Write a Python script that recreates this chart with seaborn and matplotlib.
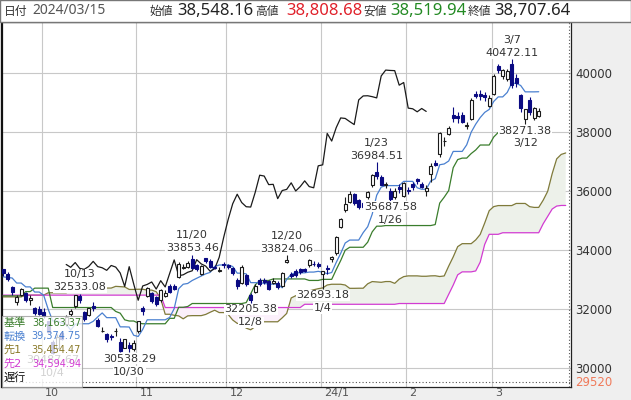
import numpy as np
import pandas as pd
import matplotlib
matplotlib.use("Agg")
import matplotlib.pyplot as plt
import matplotlib.transforms as mtransforms
from matplotlib.patches import Rectangle
import seaborn as sns

sns.set_style("white")
plt.rcParams['font.family'] = ['DejaVu Sans', 'Noto Sans CJK JP']

#%% data: Nikkei 225 daily candles 2023/09/19 - 2024/03/15

holidays = ["2023-10-09", "2023-11-03", "2023-11-23", "2024-01-01", "2024-01-02",
            "2024-01-03", "2024-01-08", "2024-02-12", "2024-02-23"]
dates = pd.bdate_range("2023-09-19", "2024-03-15")
dates = dates[~dates.isin(pd.to_datetime(holidays))]

opens = [33350, 33200, 32750, 32250, 32500, 32550, 32300, 32050, 32000, 31900,
         31600, 30900, 30700, 31200, 31500, 31850, 32100, 32450, 31900, 31800,
         32100, 31650, 31250, 31150, 31100, 31250, 30880, 30700, 30800, 30650,
         31250, 32050, 32450, 32550, 32400, 32300, 32450, 32800, 32800, 33100,
         33400, 33450, 33700, 33500, 33200, 33730, 33650, 33450, 33300, 33550,
         33500, 33400, 33000, 32900, 33150, 32500, 32600, 32980, 33000, 32950,
         32900, 32900, 32800, 33600, 33200, 33300, 33350, 33350, 33500, 33550,
         33550, 33200, 33400, 33700, 33900, 34800, 35380, 35640, 35900, 35700,
         35600, 35800, 36200, 36650, 36500, 36200, 36000, 35800, 36150, 35850,
         36050, 36250, 36400, 36250, 36000, 36600, 36950, 37250, 37700, 37950,
         38600, 38550, 38600, 38200, 38450, 39300, 39300, 39250, 38900, 39300,
         40250, 39900, 39800, 40300, 39850, 39250, 38450, 39100, 38480, 38548.16]
highs = [33370, 33250, 32800, 32470, 32720, 32580, 32500, 32080, 32100, 32050,
         31620, 30950, 31150, 31250, 31800, 32000, 32500, 32533.08, 31950, 32050,
         32260, 31700, 31400, 31200, 31150, 31380, 31030, 31000, 30900, 30950,
         31620, 32100, 32750, 32600, 32450, 32700, 32650, 32850, 32850, 33600,
         33550, 33650, 33853.46, 33550, 33500, 33750, 33700, 33500, 33450, 33600,
         33550, 33450, 33050, 33500, 33200, 32550, 32850, 33050, 33050, 33000,
         33050, 32950, 33250, 33824.06, 33250, 33350, 33400, 33400, 33720, 33650,
         33600, 33300, 33500, 33800, 34480, 35100, 35800, 36000, 35950, 35750,
         35650, 36000, 36600, 36984.51, 36550, 36300, 36100, 36100, 36250, 36300,
         36150, 36300, 36450, 36300, 36200, 36950, 37050, 38000, 37850, 38200,
         38850, 38700, 38700, 38350, 39160, 39400, 39450, 39350, 39250, 39990,
         40300, 40150, 40150, 40472.11, 39990, 39300, 38800, 39200, 38850, 38808.68]
lows = [33130, 32950, 32490, 32150, 32450, 32250, 32160, 31800, 31810, 31700,
        31200, 30487.67, 30650, 30950, 31450, 31780, 32050, 32200, 31600, 31780,
        31950, 31400, 31220, 30900, 30950, 31100, 30550, 30690, 30538.29, 30600,
        31200, 31800, 32400, 32200, 32100, 32250, 32400, 32550, 32650, 33050,
        33350, 33400, 33350, 33300, 33150, 33580, 33400, 33350, 33250, 33400,
        33350, 33150, 32700, 32850, 32800, 32205.38, 32550, 32800, 32850, 32650,
        32850, 32700, 32750, 33560, 33050, 33100, 33200, 33250, 33450, 33480,
        33400, 32693.18, 33200, 33600, 33850, 34750, 35300, 35600, 35550, 35400,
        35400, 35750, 36150, 36400, 36200, 36100, 35687.58, 35750, 35950, 35800,
        35900, 36050, 36250, 36100, 35854, 36300, 36850, 37150, 37550, 37900,
        38350, 38300, 38300, 38100, 38400, 39150, 39100, 39050, 38850, 39250,
        40000, 39800, 39750, 39500, 39550, 38700, 38271.38, 38600, 38400, 38519.94]
closes = [33242, 33023, 32571, 32402, 32678, 32315, 32371, 31872, 31857, 31759,
          31237, 30526, 31075, 30994, 31746, 31936, 32494, 32315, 31659, 32040,
          32042, 31430, 31259, 30999, 31062, 31269, 30601, 30991, 30697, 30858,
          31601, 31950, 32708, 32271, 32166, 32646, 32568, 32585, 32695, 33519,
          33424, 33585, 33388, 33354, 33451, 33625, 33447, 33408, 33321, 33486,
          33431, 33231, 32775, 33445, 32858, 32307, 32791, 32843, 32926, 32686,
          32970, 32758, 33219, 33675, 33140, 33169, 33255, 33305, 33681, 33539,
          33464, 33288, 33377, 33763, 34441, 35049, 35577, 35901, 35619, 35477,
          35466, 35963, 36546, 36517, 36226, 36236, 35751, 36026, 36065, 36287,
          36011, 36158, 36354, 36160, 36119, 36863, 36897, 37963, 37703, 38157,
          38487, 38470, 38363, 38262, 39098, 39233, 39239, 39208, 39166, 39910,
          40109, 40097, 40090, 39598, 39688, 38820, 38797, 38695, 38807, 38707.64]

# ichimoku lines (one value per trading day)
tenkan = [33100, 33080, 33060, 32890, 32890, 32760, 32760, 32585, 32585, 32475,
          32000, 31604, 31604, 31534, 31494, 31294, 31494, 31510, 31510, 31510,
          31592, 31742, 31877, 31717, 31717, 31717, 31405, 31405, 31399, 31119,
          31079, 31319, 31644, 31644, 31644, 31644, 31644, 31725, 32025, 32700,
          32850, 32875, 32977, 33052, 33127, 33202, 33252, 33452, 33502, 33502,
          33502, 33450, 33225, 33225, 33200, 32903, 32903, 32903, 32878, 32853,
          32853, 32853, 32728, 33015, 33187, 33237, 33237, 33237, 33262, 33262,
          33287, 33259, 33207, 33247, 33587, 33897, 34247, 34347, 34347, 34347,
          34600, 34800, 35225, 35868, 36143, 36193, 36193, 36193, 36193, 36337,
          36337, 36337, 36119, 36069, 36069, 36350, 36425, 36900, 36927, 37027,
          37352, 37352, 37352, 37575, 38005, 38275, 38500, 38675, 38775, 39045,
          39200, 39200, 39350, 39661, 39661, 39586, 39371, 39371, 39371, 39375]
kijun = [32455, 32455, 32455, 32455, 32455, 32600, 32600, 32717, 32717, 32717,
         32717, 32060, 32060, 32060, 32060, 32060, 32060, 32060, 32060, 32060,
         32060, 32060, 32060, 32060, 32060, 31928, 31868, 31643, 31603, 31603,
         31533, 31510, 31510, 31510, 31510, 31510, 31510, 31694, 31694, 32069,
         32069, 32094, 32196, 32196, 32196, 32196, 32196, 32196, 32196, 32196,
         32196, 32196, 32196, 32196, 32227, 32527, 32827, 32977, 32977, 32977,
         33029, 33029, 33029, 33029, 33029, 33029, 33029, 33029, 32978, 32978,
         32978, 33015, 33015, 33015, 33343, 33653, 34003, 34103, 34103, 34103,
         34103, 34275, 34625, 34818, 34818, 34839, 34839, 34839, 34839, 34839,
         34839, 34839, 34839, 34839, 34839, 34839, 34872, 35600, 35800, 36025,
         36800, 37075, 37125, 37125, 37280, 37400, 37569, 37569, 37569, 37839,
         37994, 37994, 38025, 38136, 38136, 38163, 38163, 38163, 38163, 38163]
# leading spans run 6 days past the last candle
span_a = [32420, 32420, 32420, 32420, 32420, 32480, 32480, 32480, 32480, 32480,
          32560, 32560, 32560, 32560, 32560, 32640, 32640, 32640, 32640, 32640,
          32720, 32720, 32720, 32720, 32720, 32778, 32768, 32758, 32673, 32673,
          32680, 32680, 32651, 32651, 32596, 32359, 31832, 31832, 31797, 31777,
          31677, 31777, 31785, 31785, 31785, 31826, 31901, 31969, 31889, 31889,
          31823, 31637, 31524, 31501, 31361, 31306, 31415, 31577, 31577, 31577,
          31577, 31577, 31710, 31860, 32385, 32460, 32485, 32587, 32624, 32662,
          32699, 32724, 32824, 32849, 32849, 32849, 32823, 32711, 32711, 32714,
          32715, 32865, 32940, 32928, 32915, 32941, 32941, 32879, 33022, 33108,
          33133, 33133, 33133, 33120, 33120, 33133, 33137, 33111, 33131, 33465,
          33775, 34125, 34225, 34225, 34225, 34352, 34538, 34925, 35343, 35481,
          35516, 35516, 35516, 35516, 35588, 35588, 35588, 35479, 35454, 35454,
          35700, 36000, 36600, 37100, 37250, 37300]
span_b = [32480, 32480, 32480, 32480, 32480, 32480, 32480, 32480, 32480, 32480,
          32480, 32480, 32480, 32480, 32480, 32480, 32480, 32480, 32480, 32480,
          32480, 32480, 32480, 32480, 32480, 32480, 32480, 32480, 32480, 32480,
          32480, 32480, 32480, 32480, 32480, 32480, 32060, 32060, 32060, 32060,
          32060, 32060, 32060, 32060, 32060, 32060, 32060, 32060, 32060, 32060,
          32060, 32060, 32060, 32060, 32060, 32060, 32060, 32060, 32060, 32060,
          32060, 32060, 32060, 32060, 32060, 32060, 32060, 32170, 32170, 32170,
          32170, 32170, 32170, 32170, 32170, 32170, 32170, 32170, 32170, 32170,
          32170, 32170, 32170, 32170, 32170, 32170, 32170, 32170, 32196, 32196,
          32196, 32196, 32196, 32196, 32196, 32196, 32196, 32196, 32196, 32509,
          32819, 33169, 33269, 33269, 33269, 33300, 33600, 34200, 34542, 34542,
          34542, 34595, 34595, 34595, 34595, 34595, 34595, 34595, 34595, 34595,
          34900, 35150, 35400, 35500, 35520, 35520]
chikou_from = 39          # first close drawn as lagging span
lag = 25

legend_names = ["基準", "転換", "先1", "先2", "遅行"]
legend_values = ["38,163.37", "39,374.75", "35,454.47", "34,594.94", ""]

month_labels = ["10", "11", "12", "24/1", "2", "3"]
y_ticks = [30000, 32000, 34000, 36000, 38000, 40000]
floor_value = 29520

marks = [("2023-10-04", "low"), ("2023-10-13", "high"), ("2023-10-30", "low"),
         ("2023-11-20", "high"), ("2023-12-08", "low"), ("2023-12-20", "high"),
         ("2024-01-04", "low"), ("2024-01-23", "high"), ("2024-01-26", "low"),
         ("2024-03-07", "high"), ("2024-03-12", "low")]

#%% colours

c_up_edge = "#1a1a1a"
c_down = "#0a0a82"
c_kijun = "#3a7d2c"
c_tenkan = "#4a80d0"
c_a = "#7f7a3a"
c_b = "#d23cd2"
c_lag = "#1a1a1a"

#%% figure layout

W, H = 631, 400
fig = plt.figure(figsize=(W / 100, H / 100), dpi=100, facecolor="#efefef")
fx = lambda px: px / W
fy = lambda py: 1 - py / H

ax = fig.add_axes([fx(2), fy(387), fx(571) - fx(2), fy(22) - fy(387)])
ax.set_facecolor("white")

t = np.arange(len(dates))
t_span = np.arange(len(span_a))
O, Hh, L, C = map(np.asarray, (opens, highs, lows, closes))
A, B = np.asarray(span_a), np.asarray(span_b)

# cloud
ax.fill_between(t_span, A, B, where=A >= B, interpolate=True,
                facecolor="#edf1ea", lw=0, zorder=1)
ax.fill_between(t_span, A, B, where=A < B, interpolate=True,
                facecolor="#fbf0fb", lw=0, zorder=1)

line_kw = dict(ax=ax, estimator=None, sort=False, linewidth=0.9, legend=False)
sns.lineplot(x=t_span, y=A, color=c_a, zorder=3, **line_kw)
sns.lineplot(x=t_span, y=B, color=c_b, zorder=3, **line_kw)
sns.lineplot(x=t, y=kijun, color=c_kijun, zorder=3, **line_kw)
sns.lineplot(x=t, y=tenkan, color=c_tenkan, zorder=3, **line_kw)
sns.lineplot(x=t[chikou_from:] - lag, y=C[chikou_from:], color=c_lag, zorder=3, **line_kw)

# candles
up = C >= O
edge = np.where(up, c_up_edge, c_down)
ax.vlines(t, L, Hh, colors=edge, linewidth=0.8, zorder=5)
ax.bar(t, np.maximum(np.abs(C - O), 1), bottom=np.minimum(O, C), width=0.66,
       color=np.where(up, "white", c_down), edgecolor=edge, linewidth=0.8, zorder=6)

# high / low labels
for d, kind in marks:
    i = dates.get_loc(pd.Timestamp(d))
    v = Hh[i] if kind == "high" else L[i]
    sgn = 1 if kind == "high" else -1
    lab = f"{dates[i].month}/{dates[i].day}"
    box = dict(facecolor="white", edgecolor="none", pad=0.4)
    ax.annotate(f"{v:.2f}", (i, v), xytext=(0, sgn * 4.5), textcoords="offset points",
                ha="center", va="center", fontsize=8, color="#333333", bbox=box, zorder=8)
    ax.annotate(lab, (i, v), xytext=(0, sgn * 13.8), textcoords="offset points",
                ha="center", va="center", fontsize=8, color="#333333", bbox=box, zorder=8)

# axes limits follow the chart's pixel grid: 4.5 px per day, first candle at x=3.2
ax.set_xlim((2 - 3.2) / 4.5, (571 - 3.2) / 4.5)
ax.set_ylim(29366, 41739)

month_start = np.flatnonzero(np.r_[True, dates.month[1:] != dates.month[:-1]])[1:]
grid_t = month_start - 0.38
ax.set_xticks(grid_t)
ax.set_xticklabels(month_labels)
ax.set_yticks(y_ticks)
ax.yaxis.tick_right()
ax.grid(True, color="#c8c8c8", linewidth=0.8)
ax.set_axisbelow(True)
ax.tick_params(axis="x", length=0, pad=0.5, labelsize=8, labelcolor="#555555")
ax.tick_params(axis="y", length=0, pad=3, labelsize=8.5, labelcolor="#333333")
shift = mtransforms.ScaledTranslation(3 / 100, 0, fig.dpi_scale_trans)
for lab in ax.get_xticklabels():
    lab.set_ha("left")
    lab.set_transform(lab.get_transform() + shift)

ax.axvline((569 - 3.2) / 4.5, color="#555555", lw=0.8, ls=(0, (1, 2)), zorder=4)
ax.axhline(floor_value, color="#555555", lw=0.8, ls=(0, (1, 2)), zorder=4)
ax.annotate(f"{floor_value}", (1.0, floor_value), xycoords=ax.get_yaxis_transform(),
            xytext=(3, 0), textcoords="offset points", ha="left", va="center",
            fontsize=8.5, color="#f07a5a", annotation_clip=False)

for s in ["top", "right", "bottom"]:
    ax.spines[s].set_color("#222222")
    ax.spines[s].set_linewidth(0.9)
ax.spines["left"].set_color("#111111")
ax.spines["left"].set_linewidth(1.6)

#%% indicator legend box (semi transparent)

fig.add_artist(Rectangle((fx(2), fy(387)), fx(82) - fx(2), fy(316) - fy(387),
                         transform=fig.transFigure, facecolor="white", alpha=0.78,
                         edgecolor="#999999", lw=0.8, zorder=2))
leg_colors = [c_kijun, c_tenkan, "#8a7a2a", c_b, "#111111"]
for k, (name, val, col) in enumerate(zip(legend_names, legend_values, leg_colors)):
    yy = 323 + 13.5 * k
    fig.text(fx(3.5), fy(yy), name, ha="left", va="center", fontsize=8, color=col, zorder=3)
    fig.text(fx(81), fy(yy), val, ha="right", va="center", fontsize=7, color=col, zorder=3)

#%% header

fig.add_artist(Rectangle((0, fy(22)), 1, 22 / H, transform=fig.transFigure,
                         facecolor="white", edgecolor="#777777", lw=1, zorder=1))
hy = fy(11)
fig.text(fx(4), hy, "日付", fontsize=8.5, family=["Noto Sans CJK JP"], color="#333333", va="center")
fig.text(fx(32), hy, dates[-1].strftime("%Y/%m/%d"), fontsize=10, family=["Noto Sans"],
         color="#555555", va="center")
head = [("始値", opens[-1], "#222222", 149, 177), ("高値", highs[-1], "#e0202a", 255, 286),
        ("安値", lows[-1], "#238a23", 363, 390), ("終値", closes[-1], "#222222", 468, 494)]
for name, val, col, x1, x2 in head:
    fig.text(fx(x1), hy, name, fontsize=8.5, family=["Noto Sans CJK JP"], color="#333333", va="center")
    fig.text(fx(x2), hy, f"{val:,.2f}", fontsize=12, family=["Noto Sans"], color=col, va="center")

fig.savefig("out.png", dpi=100, facecolor=fig.get_facecolor())
